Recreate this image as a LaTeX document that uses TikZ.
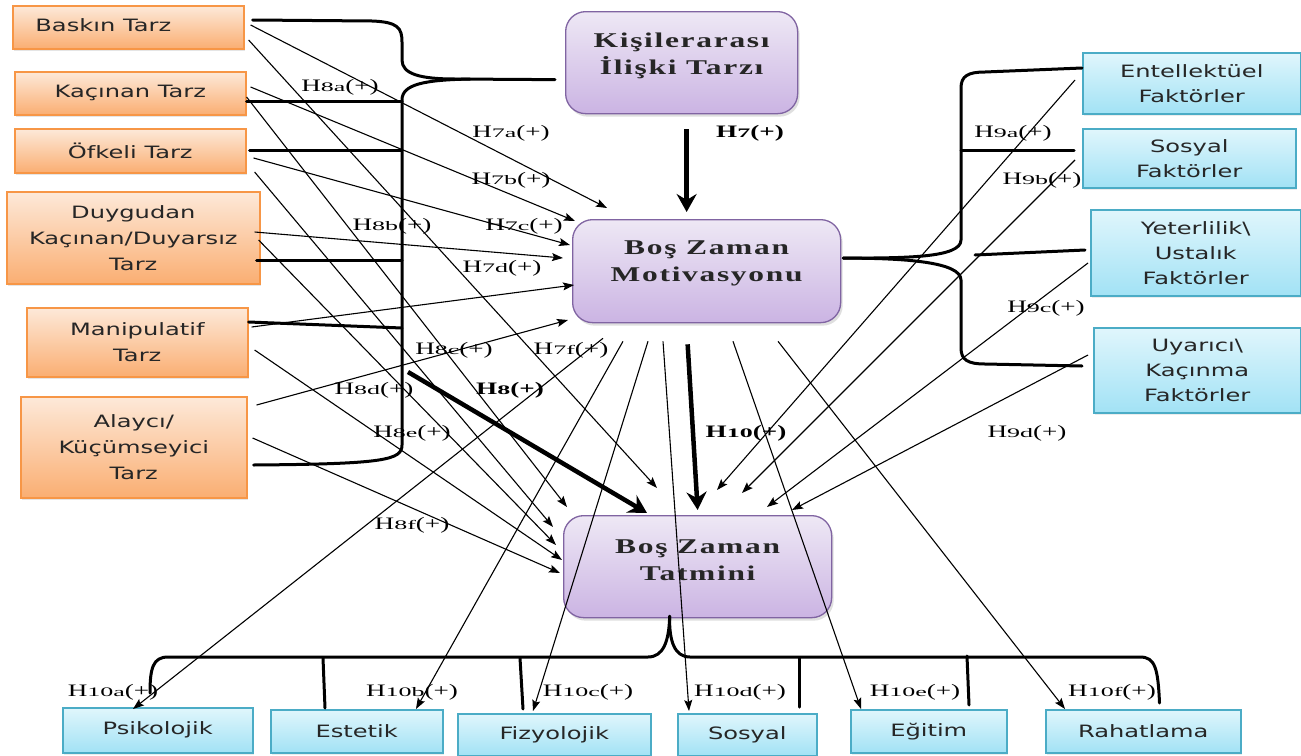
\documentclass[tikz,border=0pt]{standalone}
\usepackage{fontspec}
\setmainfont{Liberation Serif}
\newfontfamily\labfont[FakeStretch=1.55]{Liberation Serif}
\newfontfamily\subfont[FakeStretch=2.0]{Liberation Serif}
\newfontfamily\boxfont[FakeStretch=1.42]{DejaVu Sans}
\newfontfamily\ptfont[FakeStretch=1.5,LetterSpace=8]{Liberation Serif}
\usetikzlibrary{arrows.meta,calc,shadows}
\definecolor{orBd}{HTML}{F79646}
\definecolor{orTop}{HTML}{FDE9D9}
\definecolor{orBot}{HTML}{FAAE72}
\definecolor{cyBd}{HTML}{4BACC6}
\definecolor{cyTop}{HTML}{E0F6FC}
\definecolor{cyBot}{HTML}{A2E2F5}
\definecolor{puBd}{HTML}{8064A2}
\definecolor{puTop}{HTML}{EEE8F5}
\definecolor{puBot}{HTML}{CBB4E3}
\newcommand{\hh}[1]{{\labfont\fontsize{17.5}{18}\selectfont H\raisebox{-0.5pt}{\subfont\fontsize{13}{13}\selectfont #1}(+)}}
\newcommand{\hbold}[1]{{\labfont\bfseries\fontsize{17.5}{18}\selectfont H\raisebox{-0.5pt}{\subfont\bfseries\fontsize{13}{13}\selectfont #1}(+)}}
\begin{document}
\begin{tikzpicture}[x=1pt,y=-1pt,
  obox/.style={draw=orBd, line width=1.6pt, top color=orTop, bottom color=orBot,
    drop shadow={opacity=0.2, shadow xshift=1.5pt, shadow yshift=-2.5pt},
    font=\boxfont\fontsize{17}{26}\selectfont, text=black!85, align=center, inner sep=0pt, anchor=north west},
  cbox/.style={draw=cyBd, line width=1.5pt, top color=cyTop, bottom color=cyBot,
    drop shadow={opacity=0.15, shadow xshift=1pt, shadow yshift=-2pt},
    font=\boxfont\fontsize{17}{25}\selectfont, text=black!85, align=center, inner sep=0pt, anchor=north west},
  pbox/.style={draw=puBd, line width=1.3pt, rounded corners=20pt, top color=puTop, bottom color=puBot,
    drop shadow={opacity=0.25, shadow xshift=2pt, shadow yshift=-3pt},
    inner sep=0pt, anchor=north west},
  ptext/.style={font=\ptfont\bfseries\fontsize{21}{27}\selectfont, text=black!85, align=center, inner sep=0pt},
  lab/.style={inner sep=0pt},
  thin/.style={line width=1.1pt, -{Stealth[length=11pt,width=8pt,inset=2pt]}},
  brk/.style={line width=3pt, line cap=round, line join=round},
  thick/.style={line width=4.5pt, -{Stealth[length=18pt,width=20pt,inset=6pt]}}
]
\useasboundingbox (0,0) rectangle (1301,755);
\fill[white] (0,0) rectangle (1301,755);

% ---------- left boxes ----------
\node[obox, minimum width=231pt, minimum height=43pt] (b1) at (12,5) {\raisebox{4pt}{\hspace*{-50pt}Baskın Tarz}};
\node[obox, minimum width=231pt, minimum height=43pt] (b2) at (14,71) {Kaçınan Tarz};
\node[obox, minimum width=231pt, minimum height=44pt] (b3) at (14,128) {Öfkeli Tarz};
\node[obox, minimum width=253pt, minimum height=92pt] (b4) at (6,191) {Duygudan\\Kaçınan/Duyarsız\\Tarz};
\node[obox, minimum width=221pt, minimum height=69pt] (b5) at (26,307) {Manipulatif\\Tarz};
\node[obox, minimum width=226pt, minimum height=101pt] (b6) at (20,396) {Alaycı/\\Küçümseyici\\Tarz};

% ---------- purple boxes ----------
\node[pbox, minimum width=232pt, minimum height=102pt] (p1) at (565,11) {};
\node[ptext] (p1t) at ($(p1.center)+(0,-7)$) {Kişilerarası\\İlişki Tarzı};
\node[pbox, minimum width=268pt, minimum height=103pt] (p2) at (572,219) {};
\node[ptext] (p2t) at ($(p2.center)+(0,-8)$) {Boş Zaman\\Motivasyonu};
\node[pbox, minimum width=268pt, minimum height=102pt] (p3) at (563,515) {};
\node[ptext] (p3t) at ($(p3.center)+(0,-6)$) {Boş Zaman\\Tatmini};

% ---------- right boxes ----------
\node[cbox, minimum width=218pt, minimum height=61pt] (c1) at (1082,52) {Entellektüel\\Faktörler};
\node[cbox, minimum width=213pt, minimum height=59pt] (c2) at (1082,128) {Sosyal\\Faktörler};
\node[cbox, minimum width=210pt, minimum height=86pt] (c3) at (1090,209) {Yeterlilik\textbackslash\\Ustalık\\Faktörler};
\node[cbox, minimum width=207pt, minimum height=85pt] (c4) at (1093,327) {Uyarıcı\textbackslash\\Kaçınma\\Faktörler};

% ---------- bottom boxes ----------
\node[cbox, minimum width=190pt, minimum height=45pt] (d1) at (62,707) {Psikolojik};
\node[cbox, minimum width=172pt, minimum height=43pt] (d2) at (270,709) {Estetik};
\node[cbox, minimum width=193pt, minimum height=42pt] (d3) at (457,713) {Fizyolojik};
\node[cbox, minimum width=139pt, minimum height=42pt] (d4) at (677,713) {Sosyal};
\node[cbox, minimum width=156pt, minimum height=43pt] (d5) at (850,709) {Eğitim};
\node[cbox, minimum width=195pt, minimum height=43pt] (d6) at (1045,709) {Rahatlama};

% ---------- brackets ----------
% left
\draw[brk] ($(b1.north east)+(8,15)$) -- (372,21) .. controls (398,22) and (402,28) .. (402,42)
  -- (402,60) .. controls (402,74) and (420,79) .. (455,79) -- ($(p1.west)+(-10,17)$);
\draw[brk] (470,79) .. controls (425,80) and (402,84) .. (402,100) -- (402,445)
  .. controls (402,460) and (385,464) .. ($(b6.north east)+(6,69)$);
\draw[brk] ($(b2.north east)+(0,30)$) -- (402,101);
\draw[brk] ($(b3.north east)+(3,22)$) -- (402,150);
\draw[brk] ($(b4.north east)+(-4,69)$) -- (402,260);
\draw[brk] ($(b5.north east)+(0,15)$) -- (402,328);
% right
\draw[brk] ($(p2.east)+(2,-13)$) .. controls (905,258) and (961,258) .. (961,240) -- (961,88)
  .. controls (961,76) and (968,72) .. (985,72) -- ($(c1.north west)+(0,16)$);
\draw[brk] ($(p2.east)+(2,-13)$) .. controls (905,258) and (961,262) .. (961,280) -- (961,348)
  .. controls (961,360) and (968,364) .. (985,364) -- ($(c4.north west)+(-11,39)$);
\draw[brk] (961,150) -- ($(c2.north west)+(-8,22)$);
\draw[brk] (975,255) -- ($(c3.north west)+(-5,41)$);
% bottom
\draw[brk] ($(p3.south)+(-28,-2)$) .. controls (669,642) and (663,657) .. (648,657) -- (168,657)
  .. controls (153,657) and (150,668) .. ($(d1.north west)+(88,-14)$);
\draw[brk] ($(p3.south)+(-28,-2)$) .. controls (669,642) and (675,657) .. (690,657) -- (1140,657)
  .. controls (1155,657) and (1158,668) .. ($(d6.north east)+(-82,-6)$);
\draw[brk] (323,658) -- ($(d2.north west)+(55,-1)$);
\draw[brk] (520,658) -- ($(d3.north west)+(66,-4)$);
\draw[brk] (799,658) -- ($(d4.north west)+(122,-6)$);
\draw[brk] (967,656) -- ($(d5.north west)+(119,-4)$);

% ---------- thick arrows ----------
\draw[thick] ($(p1.south)+(5,15)$) -- ($(p2.north)+(-20,-7)$);
\draw[thick] ($(p2.south)+(-19,21)$) -- ($(p3.north)+(0,-5)$);
\coordinate (h8s) at (408,372);
\draw[thick] (h8s) -- ($(p3.north west)+(84,-2)$);

% ---------- H7 lines ----------
\draw[thin] ($(b1.north east)+(6,20)$) -- ($(p2.north west)+(35,-11)$);
\draw[thin] ($(b2.north east)+(4,16)$) -- ($(p2.north west)+(3,2)$);
\draw[thin] ($(b3.north east)+(7,30)$) -- ($(p2.north west)+(-2,26)$);
\draw[thin] ($(b4.north east)+(-6,41)$) -- ($(p2.north west)+(-9,39)$);
\draw[thin] ($(b5.north east)+(3,20)$) -- ($(p2.north west)+(2,66)$);
\draw[thin] ($(b6.north east)+(9,9)$) -- ($(p2.north west)+(-4,101)$);
% ---------- H8 lines ----------
\draw[thin] ($(b1.north east)+(4,35)$) -- ($(p3.north west)+(94,-27)$);
\draw[thin] ($(b2.north east)+(0,26)$) -- ($(p3.north west)+(4,-8)$);
\draw[thin] ($(b3.north east)+(8,44)$) -- ($(p3.north west)+(-10,12)$);
\draw[thin] ($(b4.north east)+(-2,49)$) -- ($(p3.north west)+(-7,30)$);
\draw[thin] ($(b5.north east)+(6,43)$) -- ($(p3.north west)+(-1,45)$);
\draw[thin] ($(b6.north east)+(5,42)$) -- ($(p3.north west)+(-3,58)$);
% ---------- H9 lines ----------
\draw[thin] ($(c1.north west)+(-7,28)$) -- ($(p3.north west)+(154,-25)$);
\draw[thin] ($(c2.north west)+(-7,32)$) -- ($(p3.north west)+(179,-22)$);
\draw[thin] ($(c3.north west)+(-2,54)$) -- ($(p3.north west)+(204,-8)$);
\draw[thin] ($(c4.north west)+(-5,28)$) -- ($(p3.north west)+(229,-5)$);
% ---------- H10 lines ----------
\draw[thin] ($(p2.south west)+(31,15)$) -- ($(d1.north west)+(71,2)$);
\draw[thin] ($(p2.south west)+(51,18)$) -- ($(d2.north west)+(146,0)$);
\draw[thin] ($(p2.south west)+(76,18)$) -- ($(d3.north west)+(76,-2)$);
\draw[thin] ($(p2.south west)+(91,18)$) -- ($(d4.north west)+(12,-2)$);
\draw[thin] ($(p2.south west)+(161,18)$) -- ($(d5.north west)+(11,0)$);
\draw[thin] ($(p2.south west)+(206,18)$) -- ($(d6.north west)+(20,0)$);

% ---------- labels ----------
\node[lab] (l8a) at (340,87) {\hh{8a}};
\node[lab] (l7a) at (511,133) {\hh{7a}};
\node[lab] (l7b) at (511,180) {\hh{7b}};
\node[lab] (l7c) at (524,226) {\hh{7c}};
\node[lab] (l7d) at (502,268) {\hh{7d}};
\node[lab] (l8b) at (392,226) {\hh{8b}};
\node[lab] (l8c) at (454,350) {\hh{8c}};
\node[lab] (l7f) at (571,350) {\hh{7f}};
\node[lab] (l8d) at (374,390) {\hh{8d}};
\node[lab] (l8) at (510,390) {\hbold{8}};
\node[lab] (l8e) at (412,433) {\hh{8e}};
\node[lab] (l8f) at (412,525) {\hh{8f}};
\node[lab] (l7) at (750,133) {\hbold{7}};
\node[lab] (l10) at (746,433) {\hbold{10}};
\node[lab] (l9a) at (1013,133) {\hh{9a}};
\node[lab] (l9b) at (1042,180) {\hh{9b}};
\node[lab] (l9c) at (1046,308) {\hh{9c}};
\node[lab] (l9d) at (1027,433) {\hh{9d}};
\node[lab] (l10a) at (113,692) {\hh{10a}};
\node[lab] (l10b) at (412,692) {\hh{10b}};
\node[lab] (l10c) at (588,692) {\hh{10c}};
\node[lab] (l10d) at (740,692) {\hh{10d}};
\node[lab] (l10e) at (915,692) {\hh{10e}};
\node[lab] (l10f) at (1112,692) {\hh{10f}};
\end{tikzpicture}
\end{document}
